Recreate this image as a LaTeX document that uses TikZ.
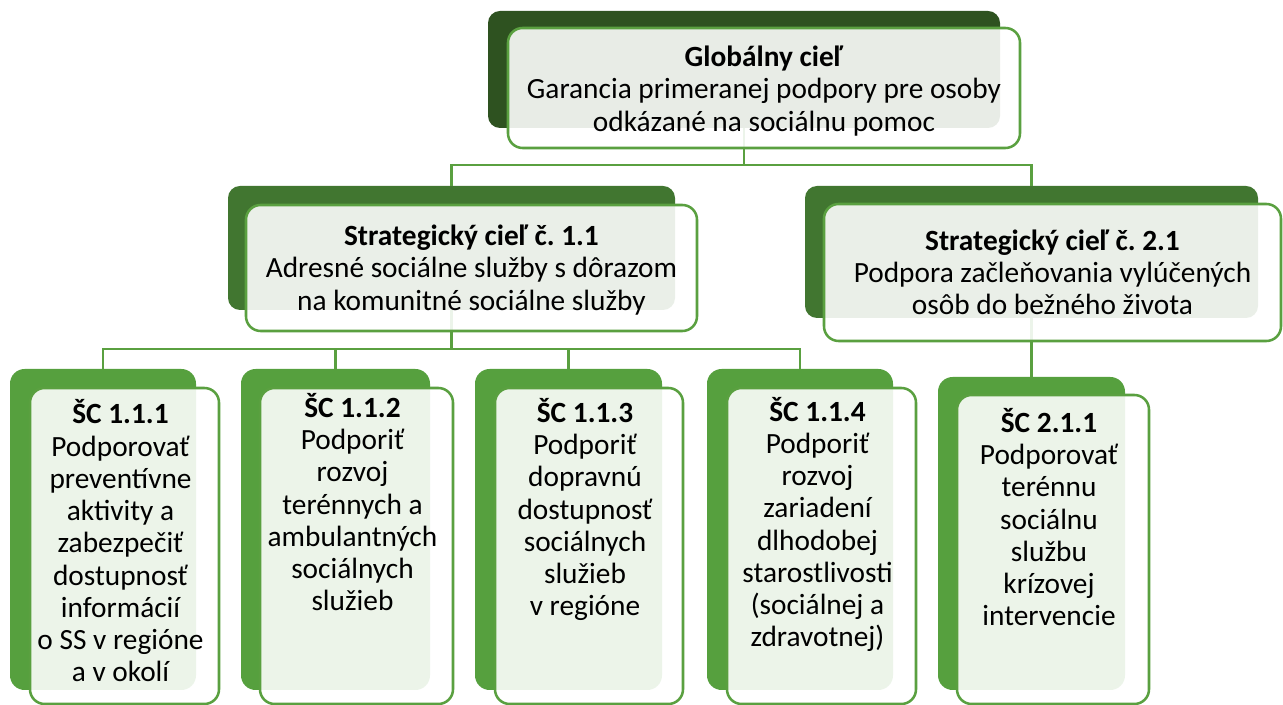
\documentclass[tikz,border=0pt]{standalone}
\usepackage{fontspec}
\setmainfont{Carlito}
\frenchspacing
\definecolor{dkA}{RGB}{46,82,32}
\definecolor{dkB}{RGB}{65,118,48}
\definecolor{dkC}{RGB}{86,160,62}
\definecolor{bord}{RGB}{90,160,64}
\tikzset{
  backA/.style={fill=dkA, draw=none, rounded corners=9pt, inner sep=0pt, outer sep=0pt},
  backB/.style={fill=dkB, draw=none, rounded corners=9pt, inner sep=0pt, outer sep=0pt},
  backC/.style={fill=dkC, draw=none, rounded corners=11pt, inner sep=0pt, outer sep=0pt},
  front/.style={fill=white, fill opacity=0.89, draw=bord, draw opacity=1, line width=1.9pt, rounded corners=11pt, inner sep=0pt, outer sep=0pt},
  conn/.style={draw=bord, line width=1.7pt},
  txt/.style={align=center, inner sep=0pt, text=black, font=\fontsize{22pt}{24.2pt}\selectfont\frenchspacing}
}
\newcommand\mkbox[6]{\node[#6, anchor=north west, minimum width={(#4-#2)*0.75pt}, minimum height={(#5-#3)*0.75pt}] (#1) at (#2,#3) {};}
\begin{document}
\begin{tikzpicture}[x=0.75pt, y=-0.75pt]
\useasboundingbox (0,0) rectangle (1283,705);
\clip (0,0) rectangle (1283,705);
\fill[white] (0,0) rectangle (1283,705);
% back boxes
\mkbox{gb}{488}{11}{1000}{128}{backA}
\mkbox{s1b}{228}{186}{675}{310}{backB}
\mkbox{s2b}{805}{186}{1258}{318}{backB}
\mkbox{c1b}{10}{369}{196}{690}{backC}
\mkbox{c2b}{241}{369}{430}{690}{backC}
\mkbox{c3b}{475}{369}{662}{690}{backC}
\mkbox{c4b}{707}{369}{893}{690}{backC}
\mkbox{c5b}{938}{377}{1125}{690}{backC}
% connectors
\coordinate (j0) at (gb.south |- 0,165);
\draw[conn] (gb.south) -- (j0) -| (s1b.north);
\draw[conn] (j0) -| (s2b.north);
\coordinate (j1) at (s1b.south |- 0,349);
\draw[conn] (s1b.south) -- (j1) -| (c1b.north);
\draw[conn] (j1) -| (c2b.north);
\draw[conn] (j1) -| (c3b.north);
\draw[conn] (j1) -| (c4b.north);
\draw[conn] (s2b.south) -- (c5b.north);
% front boxes
\mkbox{g}{508}{28}{1020}{148}{front}
\mkbox{s1}{246}{205}{697}{331}{front}
\mkbox{s2}{824}{204}{1281}{341}{front}
\mkbox{c1}{30}{388}{219}{704}{front}
\mkbox{c2}{260}{388}{453}{704}{front}
\mkbox{c3}{495}{388}{683}{704}{front}
\mkbox{c4}{727}{388}{916}{704}{front}
\mkbox{c5}{957}{395}{1149}{704}{front}
% texts
\node[txt, yshift=-2.2pt] (gt) at (g.center) {\textbf{Globálny cieľ}\\Garancia primeranej podpory pre osoby\\odkázané na sociálnu pomoc};
\node[txt, yshift=-1.5pt] (s1t) at (s1.center) {\textbf{Strategický cieľ č. 1.1}\\Adresné sociálne služby s dôrazom\\na komunitné sociálne služby};
\node[txt] (s2t) at (s2.center) {\textbf{Strategický cieľ č. 2.1}\\Podpora začleňovania vylúčených\\osôb do bežného života};
\node[txt, anchor=base] (c1t) at ([xshift=-3pt]c1.north |- 0,682) {\textbf{ŠC 1.1.1}\\Podporovať\\preventívne\\aktivity a\\zabezpečiť\\dostupnosť\\informácií\\o SS v regióne\\a v okolí};
\node[txt, anchor=base] (c2t) at ([xshift=-3pt]c2.north |- 0,611) {\textbf{ŠC 1.1.2}\\Podporiť\\rozvoj\\terénnych a\\ambulantných\\sociálnych\\služieb};
\node[txt, anchor=base] (c3t) at ([xshift=-3pt]c3.north |- 0,616) {\textbf{ŠC 1.1.3}\\Podporiť\\dopravnú\\dostupnosť\\sociálnych\\služieb\\v regióne};
\node[txt, anchor=base] (c4t) at ([xshift=-3pt]c4.north |- 0,647) {\textbf{ŠC 1.1.4}\\Podporiť\\rozvoj\\zariadení\\dlhodobej\\starostlivosti\\(sociálnej a\\zdravotnej)};
\node[txt, anchor=base] (c5t) at ([xshift=-3pt]c5.north |- 0,626) {\textbf{ŠC 2.1.1}\\Podporovať\\terénnu\\sociálnu\\službu\\krízovej\\intervencie};
\end{tikzpicture}
\end{document}
